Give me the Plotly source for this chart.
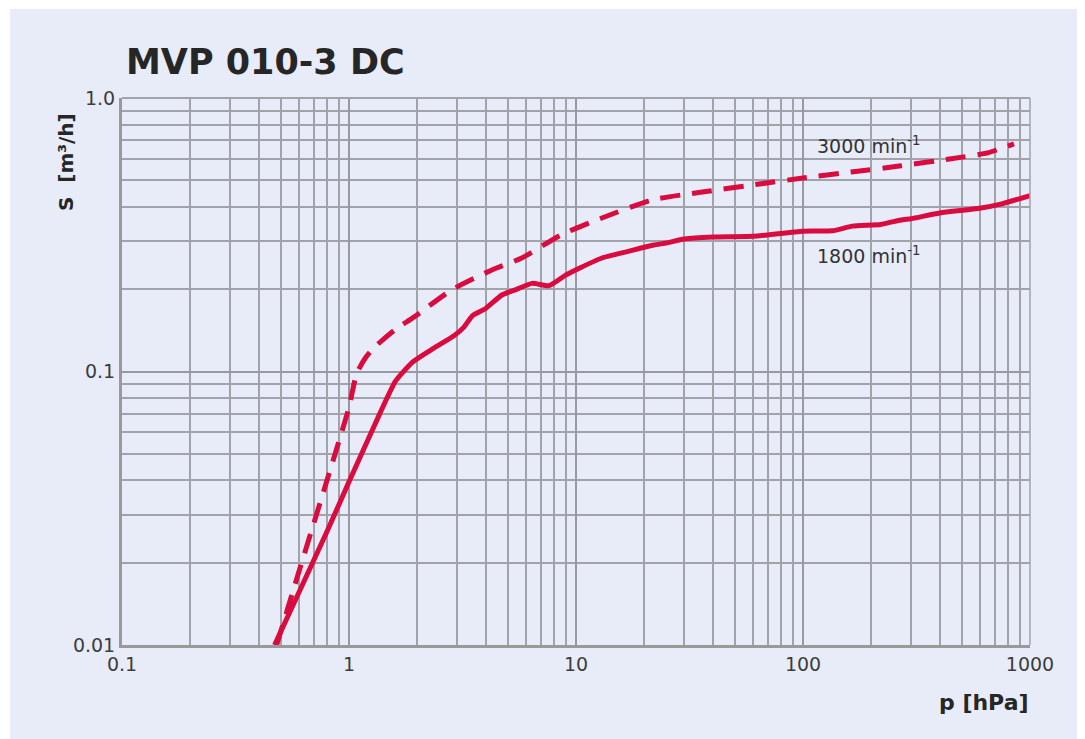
import plotly.graph_objects as go

# ---- data ----
p_1800 = [0.47, 0.6, 0.8, 1.0, 1.3, 1.6, 1.9, 2.3, 2.9, 3.2, 3.5, 4.0, 4.7, 5.5, 6.4, 7.6, 9.0, 10.5,
          13, 17, 22, 25, 30, 40, 60, 100, 135, 165, 220, 270, 300, 400, 600, 750, 1000]
s_1800 = [0.0100, 0.0155, 0.0260, 0.0395, 0.064, 0.092, 0.108, 0.120, 0.135, 0.145, 0.160, 0.170, 0.190,
          0.200, 0.210, 0.206, 0.225, 0.240, 0.260, 0.275, 0.290, 0.295, 0.305, 0.310, 0.312, 0.326,
          0.327, 0.340, 0.345, 0.358, 0.362, 0.380, 0.395, 0.410, 0.440]

p_3000 = [0.48, 0.6, 0.8, 1.0, 1.08, 1.18, 1.3, 1.59, 1.93, 2.84, 4.26, 5.77, 8.6, 13, 21.6, 36, 59,
          100, 163, 270, 450, 650, 850]
s_3000 = [0.0100, 0.0184, 0.040, 0.074, 0.098, 0.112, 0.123, 0.142, 0.158, 0.199, 0.235, 0.260, 0.316,
          0.364, 0.424, 0.453, 0.480, 0.510, 0.536, 0.565, 0.600, 0.630, 0.680]

x_ticks = [0.1, 1, 10, 100, 1000]
x_tick_labels = ["0.1", "1", "10", "100", "1000"]
y_ticks = [0.01, 0.1, 1.0]
y_tick_labels = ["0.01", "0.1", "1.0"]

title_text = "MVP 010-3 DC"
label_3000 = "3000 min<sup>-1</sup>"
label_1800 = "1800 min<sup>-1</sup>"

RED = "#d90b3f"
PANEL = "#e8ecf8"
GRID = "#a0a3a9"
FONT = "DejaVu Sans, sans-serif"

# page offset (body margin) = 8px
OFF = 8
W, H = 1085 - OFF, 739 - OFF
L, T = 122 - OFF, 98 - OFF
R = (1085 - OFF) - (1030 - OFF)
B = (739 - OFF) - (645 - OFF)
pw, ph = W - L - R, H - T - B


def px(page_x):
    return (page_x - OFF - L) / pw


def py(page_y):
    return (H - B - (page_y - OFF)) / ph


fig = go.Figure()
fig.add_trace(go.Scatter(x=p_3000, y=s_3000, mode="lines",
                         line=dict(color=RED, width=5, dash="20px,12px", shape="spline", smoothing=0.6),
                         hoverinfo="skip", showlegend=False))
fig.add_trace(go.Scatter(x=p_1800, y=s_1800, mode="lines",
                         line=dict(color=RED, width=5, shape="spline", smoothing=0.5),
                         hoverinfo="skip", showlegend=False))

fig.add_shape(type="rect", xref="paper", yref="paper",
              x0=px(10), x1=px(1081), y0=py(760), y1=py(9),
              fillcolor=PANEL, line=dict(width=0), layer="below")

axis_common = dict(type="log", showgrid=True, gridcolor="#96999f", gridwidth=2,
                   zeroline=False, ticks="", mirror=False,
                   tickfont=dict(family=FONT, size=19, color="#3c3c3c"))

fig.update_xaxes(**axis_common, range=[-1, 3], tickvals=x_ticks, ticktext=x_tick_labels,
                 showline=True, linecolor="#999999", linewidth=3,
                 minor=dict(showgrid=True, gridcolor=GRID, gridwidth=1.5, dtick="D1", ticks=""))
fig.update_yaxes(**axis_common, range=[-2, 0], tickvals=y_ticks, ticktext=y_tick_labels,
                 showline=True, linecolor="#999999", linewidth=3,
                 minor=dict(showgrid=True, gridcolor=GRID, gridwidth=1.5, dtick="D1", ticks=""))

fig.add_shape(type="line", xref="paper", yref="paper", x0=1, x1=1, y0=0, y1=1,
              line=dict(color=GRID, width=1.5))
fig.add_shape(type="line", xref="paper", yref="paper", x0=0, x1=1, y0=1, y1=1,
              line=dict(color=GRID, width=1.8))

annotations = [
    dict(text="<b>" + title_text + "</b>", xref="paper", yref="paper",
         x=px(124), y=py(62), xanchor="left", yanchor="middle",
         showarrow=False, font=dict(family=FONT, size=35, color="#262626")),
    dict(text="<b>S  [m³/h]</b>", xref="paper", yref="paper",
         x=px(66), y=py(162), xanchor="center", yanchor="middle",
         textangle=-90, showarrow=False, font=dict(family=FONT, size=20, color="#262626")),
    dict(text="<b>p [hPa]</b>", xref="paper", yref="paper",
         x=px(984), y=py(702), xanchor="center", yanchor="middle",
         showarrow=False, font=dict(family=FONT, size=22, color="#262626")),
    dict(text=label_3000, x=2.292, y=-0.172, xref="x", yref="y", showarrow=False,
         xanchor="center", yanchor="middle", font=dict(family=FONT, size=19, color="#333")),
    dict(text=label_1800, x=2.292, y=-0.574, xref="x", yref="y", showarrow=False,
         xanchor="center", yanchor="middle", font=dict(family=FONT, size=19, color="#333")),
]
fig.update_layout(width=W, height=H, margin=dict(l=L, r=R, t=T, b=B),
                  paper_bgcolor="white", plot_bgcolor=PANEL,
                  annotations=annotations, showlegend=False,
                  font=dict(family=FONT))

fig.write_html("out.html")
